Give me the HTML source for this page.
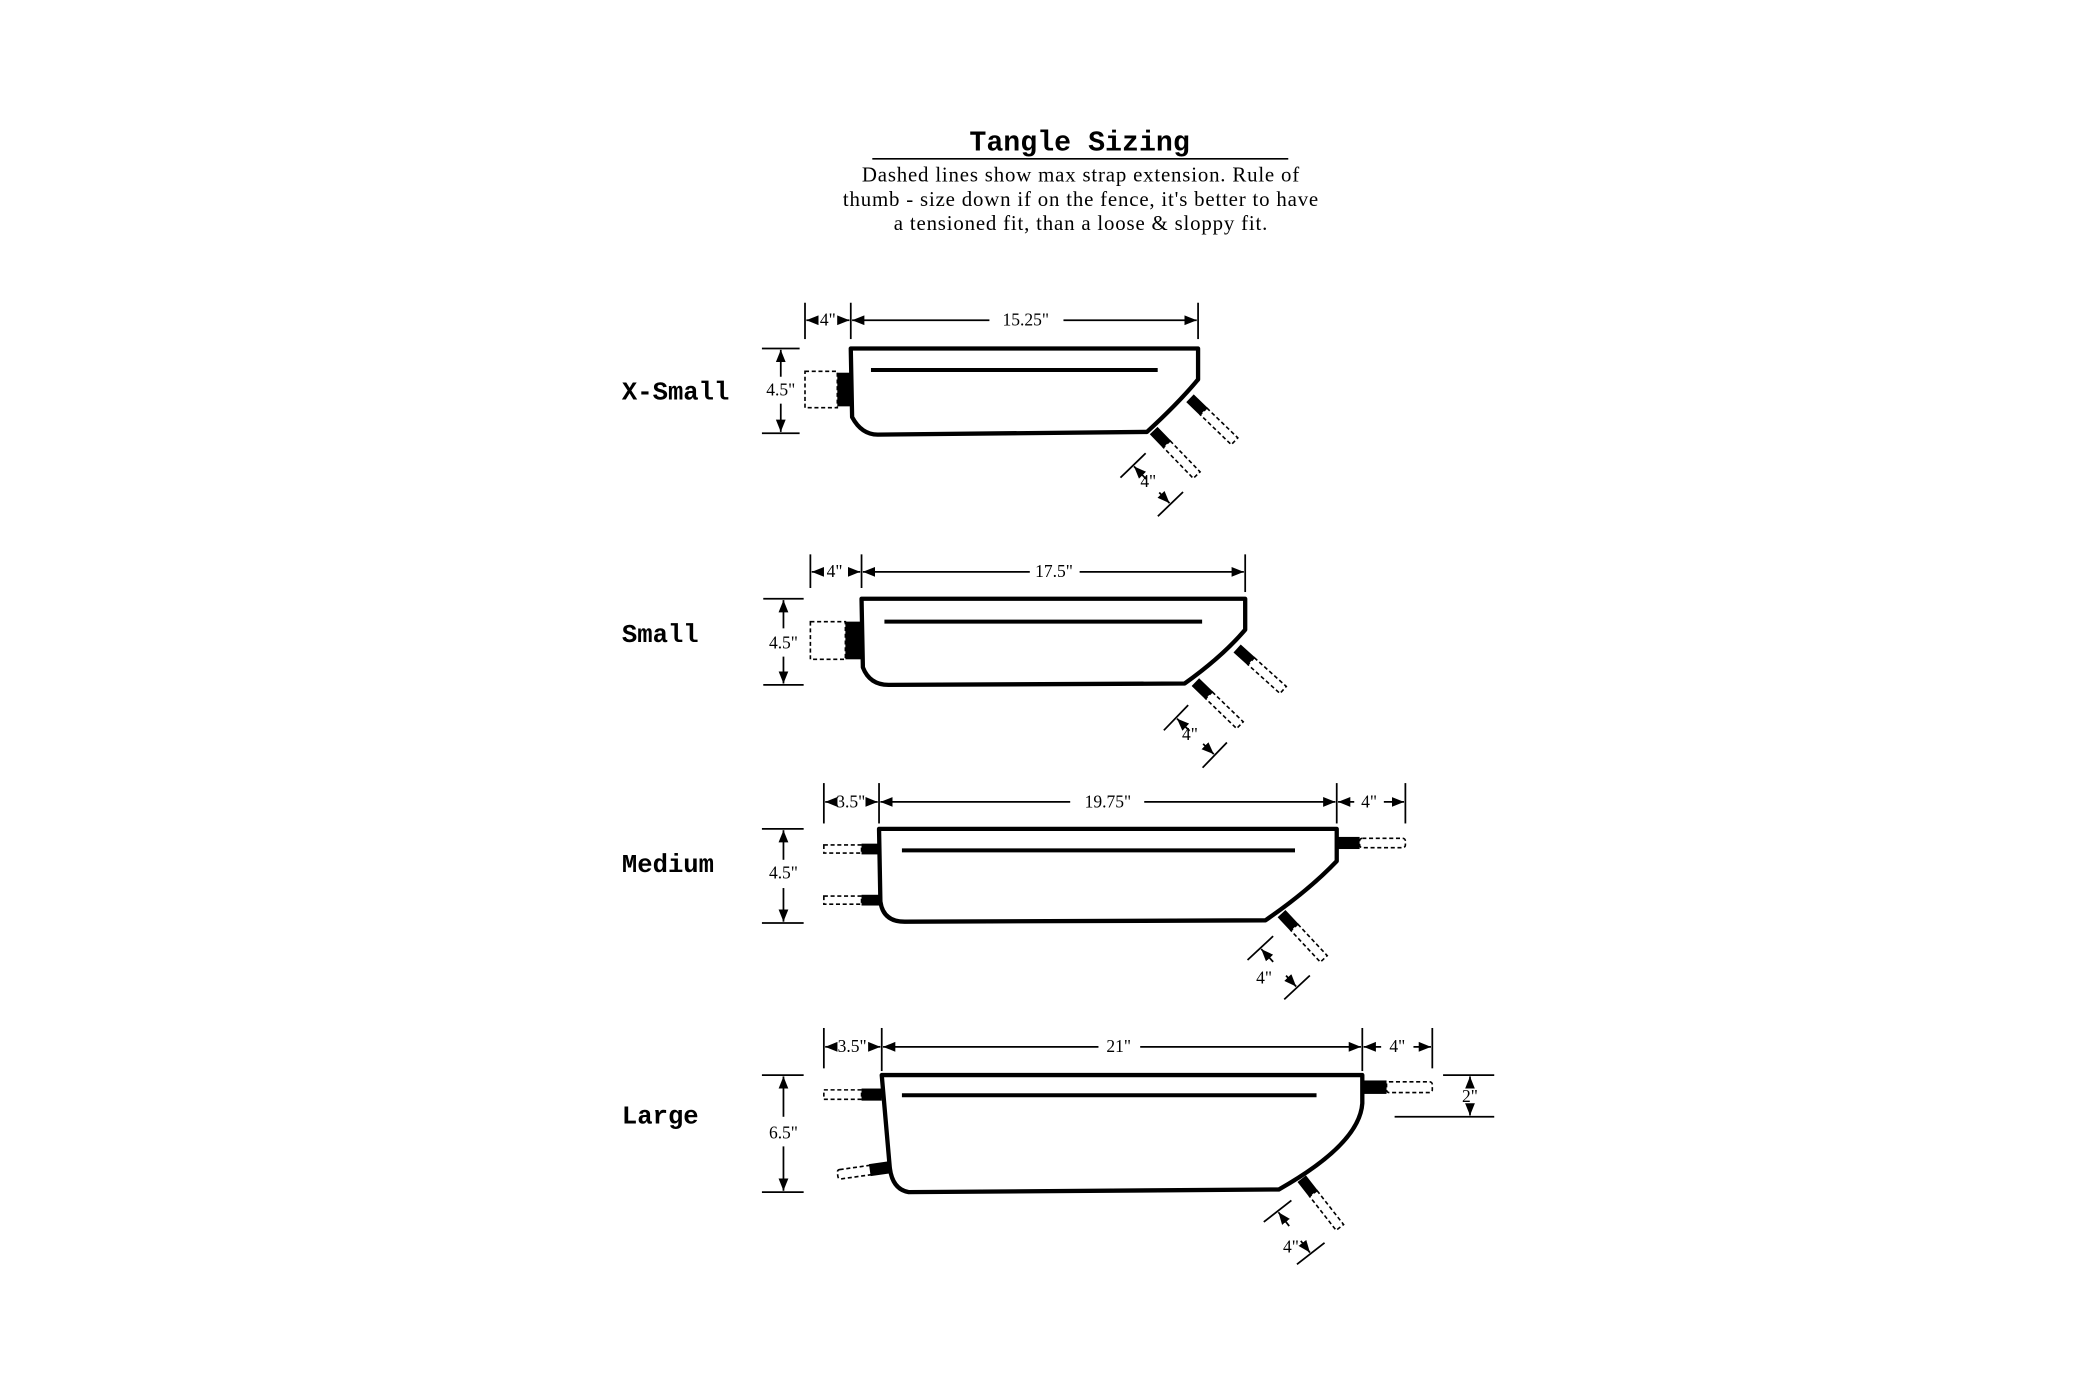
<!DOCTYPE html>
<html><head><meta charset="utf-8"><style>
html,body{margin:0;padding:0;background:#fff}
svg{display:block}
.lbl{font-family:"Liberation Mono",monospace;font-weight:bold;font-size:19px}
.dim{font-family:"Liberation Serif",serif;font-size:13px}
.t{font-family:"Liberation Serif",serif;font-size:15.5px;letter-spacing:0.6px}
</style></head><body>
<svg width="2100" height="1398" viewBox="0 0 1560 1039" preserveAspectRatio="none" xmlns="http://www.w3.org/2000/svg">
<defs>
<marker id="a" viewBox="0 0 10 10" refX="10" refY="5" markerWidth="7" markerHeight="7" orient="auto-start-reverse"><path d="M0,1 L10,5 L0,9 z" fill="#000"/></marker>
<g id="strap">
<rect x="0" y="-4" width="14" height="8" fill="#000"/>
<rect x="14" y="-3.5" width="32" height="7" fill="none" stroke="#000" stroke-width="1.2" stroke-dasharray="3,2"/>
</g>
<g id="sdim">
<use href="#strap"/>
<line x1="8" y1="16" x2="8" y2="42" stroke="#000" stroke-width="1.3"/>
<line x1="48" y1="16" x2="48" y2="42" stroke="#000" stroke-width="1.3"/>
<line x1="22" y1="29" x2="9" y2="29" stroke="#000" stroke-width="1.3" marker-end="url(#a)"/>
<line x1="36" y1="29" x2="47" y2="29" stroke="#000" stroke-width="1.3" marker-end="url(#a)"/>
</g>
</defs>
<g fill="none" stroke="#000">
<line x1="648" y1="118" x2="957" y2="118" stroke-width="1.2"/>
</g>
<text x="802" y="112" text-anchor="middle" class="lbl" style="font-size:21px">Tangle Sizing</text>
<text x="803" y="135" text-anchor="middle" class="t">Dashed lines show max strap extension. Rule of</text>
<text x="803" y="153" text-anchor="middle" class="t">thumb - size down if on the fence, it's better to have</text>
<text x="803" y="171" text-anchor="middle" class="t">a tensioned fit, than a loose &amp; sloppy fit.</text>

<!-- X-SMALL -->
<text x="462" y="297" class="lbl">X-Small</text>
<g fill="none" stroke="#000">
<path d="M632,259 L890,259 L890,282 Q875,300 852,321 L652,323 Q640,323 633,310 Z" stroke-width="3.2" stroke-linejoin="round"/>
<line x1="647" y1="275" x2="860" y2="275" stroke-width="3"/>
<rect x="598" y="276" width="24" height="27" stroke-width="1.2" stroke-dasharray="3,2"/>
<g stroke-width="1.3">
<line x1="598" y1="225" x2="598" y2="252"/><line x1="632" y1="225" x2="632" y2="252"/><line x1="890" y1="225" x2="890" y2="252"/>
<line x1="606" y1="238" x2="599" y2="238" marker-end="url(#a)"/><line x1="624" y1="238" x2="631" y2="238" marker-end="url(#a)"/>
<line x1="735" y1="238" x2="633" y2="238" marker-end="url(#a)"/><line x1="790" y1="238" x2="889" y2="238" marker-end="url(#a)"/>
<line x1="566" y1="259" x2="594" y2="259"/><line x1="566" y1="322" x2="594" y2="322"/>
<line x1="580" y1="280" x2="580" y2="260" marker-end="url(#a)"/><line x1="580" y1="300" x2="580" y2="321" marker-end="url(#a)"/>
</g></g>
<rect x="622" y="277" width="10" height="25" fill="#000"/>
<text x="615" y="242" text-anchor="middle" class="dim">4"</text>
<text x="762" y="242" text-anchor="middle" class="dim">15.25"</text>
<text x="580" y="294" text-anchor="middle" class="dim">4.5"</text>
<use href="#strap" transform="translate(884,296) rotate(44)"/>
<use href="#sdim" transform="translate(857,320) rotate(46)"/>
<text x="853" y="362" text-anchor="middle" class="dim">4"</text>

<!-- SMALL -->
<text x="462" y="477" class="lbl">Small</text>
<g fill="none" stroke="#000">
<path d="M640,445 L925,445 L925,468 Q908,488 880,508 L660,509 Q646,509 641,496 Z" stroke-width="3.2" stroke-linejoin="round"/>
<line x1="657" y1="462" x2="893" y2="462" stroke-width="3"/>
<rect x="602" y="462" width="26" height="28" stroke-width="1.2" stroke-dasharray="3,2"/>
<g stroke-width="1.3">
<line x1="602" y1="412" x2="602" y2="437"/><line x1="640" y1="412" x2="640" y2="437"/><line x1="925" y1="412" x2="925" y2="440"/>
<line x1="611" y1="425" x2="603" y2="425" marker-end="url(#a)"/><line x1="630" y1="425" x2="639" y2="425" marker-end="url(#a)"/>
<line x1="765" y1="425" x2="641" y2="425" marker-end="url(#a)"/><line x1="802" y1="425" x2="924" y2="425" marker-end="url(#a)"/>
<line x1="567" y1="445" x2="597" y2="445"/><line x1="567" y1="509" x2="597" y2="509"/>
<line x1="582" y1="467" x2="582" y2="446" marker-end="url(#a)"/><line x1="582" y1="488" x2="582" y2="508" marker-end="url(#a)"/>
</g></g>
<rect x="628" y="462" width="12" height="28" fill="#000"/>
<text x="620" y="429" text-anchor="middle" class="dim">4"</text>
<text x="783" y="429" text-anchor="middle" class="dim">17.5"</text>
<text x="582" y="482" text-anchor="middle" class="dim">4.5"</text>
<use href="#strap" transform="translate(919,482) rotate(42)"/>
<use href="#sdim" transform="translate(888,507) rotate(44)"/>
<text x="884" y="550" text-anchor="middle" class="dim">4"</text>

<!-- MEDIUM -->
<text x="462" y="648" class="lbl">Medium</text>
<g fill="none" stroke="#000">
<path d="M653,616 L993,616 L993,640 Q972,662 940,684 L672,685 Q656,685 654,670 Z" stroke-width="3.2" stroke-linejoin="round"/>
<line x1="670" y1="632" x2="962" y2="632" stroke-width="3"/>
<rect x="612" y="628" width="28" height="6" stroke-width="1.2" stroke-dasharray="3,2"/>
<rect x="612" y="666" width="28" height="6" stroke-width="1.2" stroke-dasharray="3,2"/>
<rect x="1010" y="623" width="34" height="7" rx="2" stroke-width="1.2" stroke-dasharray="3,2"/>
<g stroke-width="1.3">
<line x1="612" y1="582" x2="612" y2="612"/><line x1="653" y1="582" x2="653" y2="612"/><line x1="993" y1="582" x2="993" y2="612"/><line x1="1044" y1="582" x2="1044" y2="612"/>
<line x1="620" y1="596" x2="613" y2="596" marker-end="url(#a)"/><line x1="645" y1="596" x2="652" y2="596" marker-end="url(#a)"/>
<line x1="795" y1="596" x2="654" y2="596" marker-end="url(#a)"/><line x1="850" y1="596" x2="992" y2="596" marker-end="url(#a)"/>
<line x1="1006" y1="596" x2="994" y2="596" marker-end="url(#a)"/><line x1="1028" y1="596" x2="1043" y2="596" marker-end="url(#a)"/>
<line x1="566" y1="616" x2="597" y2="616"/><line x1="566" y1="686" x2="597" y2="686"/>
<line x1="582" y1="639" x2="582" y2="617" marker-end="url(#a)"/><line x1="582" y1="660" x2="582" y2="685" marker-end="url(#a)"/>
</g></g>
<rect x="640" y="627" width="13" height="8" fill="#000"/>
<rect x="640" y="665" width="14" height="8" fill="#000"/>
<rect x="993" y="622" width="17" height="9" fill="#000"/>
<text x="632" y="600" text-anchor="middle" class="dim">3.5"</text>
<text x="823" y="600" text-anchor="middle" class="dim">19.75"</text>
<text x="1017" y="600" text-anchor="middle" class="dim">4"</text>
<text x="582" y="653" text-anchor="middle" class="dim">4.5"</text>
<use href="#sdim" transform="translate(952,679) rotate(47)"/>
<text x="939" y="731" text-anchor="middle" class="dim">4"</text>

<!-- LARGE -->
<text x="462" y="835" class="lbl">Large</text>
<g fill="none" stroke="#000">
<path d="M655,799 L1012,799 L1012,820 Q1010,850 950,884 L675,886 Q663,884 661,868 Z" stroke-width="3.2" stroke-linejoin="round"/>
<line x1="670" y1="814" x2="978" y2="814" stroke-width="3"/>
<rect x="612" y="810" width="28" height="7" stroke-width="1.2" stroke-dasharray="3,2"/>
<rect x="622" y="867" width="26" height="7" rx="2" stroke-width="1.2" stroke-dasharray="3,2" transform="rotate(-8 640 870)"/>
<rect x="1030" y="804" width="34" height="8" rx="2" stroke-width="1.2" stroke-dasharray="3,2"/>
<g stroke-width="1.3">
<line x1="612" y1="764" x2="612" y2="794"/><line x1="655" y1="764" x2="655" y2="796"/><line x1="1012" y1="764" x2="1012" y2="796"/><line x1="1064" y1="764" x2="1064" y2="794"/>
<line x1="620" y1="778" x2="613" y2="778" marker-end="url(#a)"/><line x1="647" y1="778" x2="654" y2="778" marker-end="url(#a)"/>
<line x1="816" y1="778" x2="656" y2="778" marker-end="url(#a)"/><line x1="847" y1="778" x2="1011" y2="778" marker-end="url(#a)"/>
<line x1="1026" y1="778" x2="1013" y2="778" marker-end="url(#a)"/><line x1="1050" y1="778" x2="1063" y2="778" marker-end="url(#a)"/>
<line x1="566" y1="799" x2="597" y2="799"/><line x1="566" y1="886" x2="597" y2="886"/>
<line x1="582" y1="830" x2="582" y2="800" marker-end="url(#a)"/><line x1="582" y1="852" x2="582" y2="885" marker-end="url(#a)"/>
<line x1="1072" y1="799" x2="1110" y2="799"/><line x1="1036" y1="830" x2="1110" y2="830"/>
<line x1="1092" y1="808" x2="1092" y2="800" marker-end="url(#a)"/><line x1="1092" y1="822" x2="1092" y2="829" marker-end="url(#a)"/>
</g></g>
<rect x="640" y="809" width="15" height="9" fill="#000"/>
<rect x="646" y="864" width="15" height="9" fill="#000" transform="rotate(-8 654 868)"/>
<rect x="1012" y="803" width="18" height="10" fill="#000"/>
<text x="633" y="782" text-anchor="middle" class="dim">3.5"</text>
<text x="831" y="782" text-anchor="middle" class="dim">21"</text>
<text x="1038" y="782" text-anchor="middle" class="dim">4"</text>
<text x="582" y="846" text-anchor="middle" class="dim">6.5"</text>
<text x="1092" y="819" text-anchor="middle" class="dim">2"</text>
<use href="#sdim" transform="translate(967,876) rotate(52)"/>
<text x="959" y="931" text-anchor="middle" class="dim">4"</text>
</svg>
</body></html>
